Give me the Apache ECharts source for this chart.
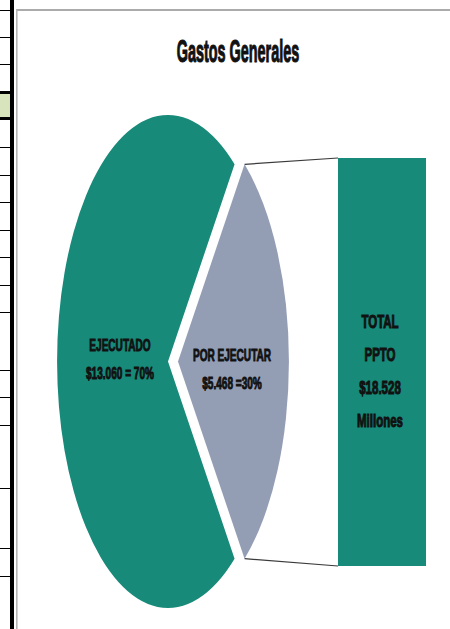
<!DOCTYPE html>
<html>
<head>
<meta charset="utf-8">
<script src="https://cdn.jsdelivr.net/npm/echarts@6/dist/echarts.min.js"></script>
<style>
  html, body { margin: 0; padding: 0; background: #fff; overflow: hidden; }
  #wrap { width: 450px; height: 629px; overflow: hidden; position: relative; }
  /* the original Excel chart was squeezed sideways, so the drawing is made
     wider and pressed back to 450px */
  #chart { width: 1000px; height: 629px; transform: scaleX(0.45); transform-origin: 0 0; }
</style>
</head>
<body>
<div id="wrap"><div id="chart"></div></div>
<script>
// datos
const sliceNames = ['EJECUTADO', 'POR EJECUTAR'];
const sliceValues = [13060, 5468];
const sliceSep = [' = ', ' ='];
const barCategories = ['TOTAL PPTO'];
const barCaption = ['TOTAL', 'PPTO'];
const barUnit = 'Millones';
const titleText = 'Gastos Generales';

const sliceColors = ['#178a79', '#939eb5'];
const barColor = '#178a79';

const S = 0.45;          // squeeze factor
const W = 1000, H = 629;
const X = px => px / S;  // picture px -> drawing px

const total = sliceValues.reduce((a, b) => a + b, 0);
const shares = sliceValues.map(v => v / total);
const fmt = v => String(v).replace(/\B(?=(\d{3})+(?!\d))/g, '.');

// pie geometry
const cx = X(168), cy = 361.5, r = 246.5, off = X(10);
// bar box
const gLeft = X(338), gRight = W - X(426), gTop = 158, gBottom = H - 566;

let chart = echarts.init(document.getElementById('chart'), null, { renderer: 'svg' });

/*
* decoracion de la hoja de calculo (bordes de celdas a la izquierda)
* */
function sheetDecor() {
  let items = [];
  let rows = [10, 37, 64, 147, 175, 202, 230, 257, 285, 312, 370, 397, 425, 488, 548, 576];
  items.push({ type: 'rect', silent: true, shape: { x: 0, y: 94, width: X(10), height: 23 }, style: { fill: '#d8e4bc' } });
  rows.forEach(y => {
    items.push({ type: 'rect', silent: true, shape: { x: 0, y: y, width: X(10), height: 1 }, style: { fill: '#000' } });
  });
  items.push({ type: 'rect', silent: true, shape: { x: 0, y: 91, width: X(10), height: 3 }, style: { fill: '#000' } });
  items.push({ type: 'rect', silent: true, shape: { x: 0, y: 117, width: X(10), height: 3 }, style: { fill: '#000' } });
  items.push({ type: 'rect', silent: true, shape: { x: X(10), y: 0, width: X(4), height: H }, style: { fill: '#000' } });
  // marco del grafico
  items.push({ type: 'rect', silent: true, shape: { x: X(16), y: 9, width: W, height: 2 }, style: { fill: '#ababab' } });
  items.push({ type: 'rect', silent: true, shape: { x: X(16), y: 9, width: X(1.6), height: H }, style: { fill: '#b5b5b5' } });
  return items;
}

function textItem(text, x, y, size, k, lh, bw) {
  return {
    type: 'text', silent: true, z: 10,
    x: x, y: y, scaleX: k,
    style: {
      text: text, fill: '#111',
      fontFamily: '"Liberation Sans", Arial, sans-serif', fontWeight: 'bold', fontSize: size,
      lineHeight: lh, align: 'center', verticalAlign: 'middle',
      stroke: '#111', lineWidth: bw
    }
  };
}

function connectors() {
  let t = shares[1] * Math.PI; // half of the exploded slice
  let px = cx + off + r * Math.cos(t);
  let dy = r * Math.sin(t);
  let st = { stroke: '#3a3a3a', lineWidth: 1.2 };
  return [
    { type: 'line', silent: true, shape: { x1: px, y1: cy - dy, x2: gLeft, y2: gTop }, style: st },
    { type: 'line', silent: true, shape: { x1: px, y1: cy + dy, x2: gLeft, y2: H - gBottom }, style: st }
  ];
}

let sliceLabels = sliceNames.map((n, i) =>
  n + '\n$' + fmt(sliceValues[i]) + sliceSep[i] + Math.round(shares[i] * 100) + '%');

chart.setOption({
  animation: false,
  grid: { left: gLeft, right: gRight, top: gTop, bottom: gBottom },
  xAxis: { type: 'category', data: barCategories, show: false },
  yAxis: { type: 'value', min: 0, max: total, show: false },
  series: [
    {
      type: 'bar',
      data: [total],
      barWidth: '100%',
      silent: true,
      itemStyle: { color: barColor }
    },
    {
      type: 'pie',
      center: [cx, cy],
      radius: r,
      startAngle: -shares[1] * 180,
      clockwise: true,
      selectedMode: 'single',
      selectedOffset: off,
      silent: true,
      label: { show: false },
      labelLine: { show: false },
      emphasis: { disabled: true },
      data: sliceNames.map((n, i) => ({
        name: n,
        value: sliceValues[i],
        selected: i === 1,
        itemStyle: { color: sliceColors[i] }
      }))
    }
  ],
  graphic: [
    ...sheetDecor(),
    ...connectors(),
    textItem(titleText, X(238), 51, 32, 1, 36, 1.2),
    textItem(sliceLabels[0], X(120), 360, 16, 1.4, 28, 0.9),
    textItem(sliceLabels[1], X(232), 370, 16, 1.4, 28, 0.9),
    textItem(barCaption.join('\n') + '\n$' + fmt(total) + '\n' + barUnit, X(380), 371, 18, 1.42, 33, 1)
  ]
});
</script>
</body>
</html>
